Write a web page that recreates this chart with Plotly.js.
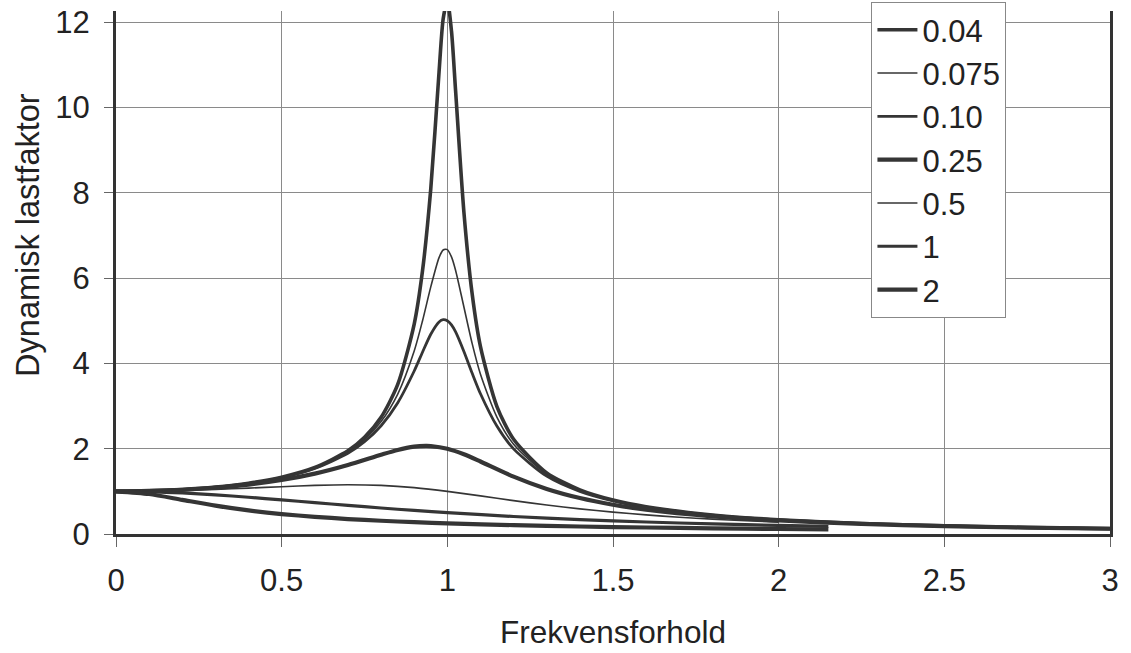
<!DOCTYPE html>
<html>
<head>
<meta charset="utf-8">
<script src="https://cdn.plot.ly/plotly-3.0.1.min.js"></script>
<style>html,body{margin:0;padding:0;background:#fff;}#chart{width:1131px;height:653px;}</style>
</head>
<body>
<div id="chart"></div>
<script>
// Frequency ratio values for the sharply peaked curves
const X_PEAK = [0,0.1,0.2,0.3,0.4,0.5,0.6,0.7,0.75,0.8,0.85,0.9,0.925,0.95,0.975,0.9875,1.0,1.0125,1.025,1.05,1.075,1.1,1.15,1.2,1.3,1.4,1.5,1.6,1.8,2.0,2.25,2.5,2.75,3.0];
const Y_004 = [1,1.010,1.042,1.099,1.190,1.331,1.558,1.949,2.265,2.735,3.500,4.922,6.164,8.089,10.83,12.08,12.5,11.79,10.38,7.546,5.624,4.392,2.982,2.221,1.433,1.035,0.796,0.639,0.446,0.333,0.246,0.190,0.152,0.125];
const Y_0075 = [1,1.010,1.041,1.098,1.188,1.327,1.547,1.921,2.214,2.635,3.275,4.290,4.994,5.792,6.478,6.658,6.667,6.496,6.178,5.322,4.462,3.744,2.734,2.104,1.395,1.018,0.787,0.634,0.443,0.332,0.245,0.190,0.152,0.125];
const Y_010 = [1,1.010,1.041,1.097,1.185,1.322,1.536,1.891,2.162,2.538,3.073,3.821,4.261,4.683,4.971,5.024,5.0,4.901,4.736,4.279,3.768,3.288,2.525,1.995,1.356,1.0,0.778,0.628,0.441,0.330,0.245,0.190,0.152,0.125];

const X_025 = [0,0.1,0.2,0.3,0.4,0.5,0.6,0.7,0.8,0.85,0.9,0.935,0.95,1.0,1.05,1.1,1.2,1.3,1.4,1.5,1.6,1.8,2.0,2.25,2.5,2.75,3.0];
const Y_025 = [1,1.009,1.036,1.084,1.158,1.265,1.415,1.617,1.858,1.970,2.047,2.066,2.062,2.0,1.870,1.699,1.344,1.055,0.842,0.686,0.570,0.414,0.316,0.237,0.185,0.149,0.123];

const X_05 = [0,0.1,0.2,0.3,0.4,0.5,0.6,0.7,0.8,0.9,1.0,1.1,1.2,1.3,1.4,1.5,1.6,1.7,1.8,1.9,2.0];
const Y_05 = [1,1.005,1.020,1.044,1.075,1.109,1.140,1.155,1.140,1.087,1.0,0.893,0.782,0.680,0.589,0.512,0.448,0.393,0.348,0.310,0.277];

const X_HIGH = [0,0.1,0.2,0.3,0.4,0.5,0.6,0.7,0.8,0.9,1.0,1.2,1.4,1.6,1.8,2.0,2.15];
const Y_1 = [1,0.990,0.962,0.917,0.862,0.8,0.735,0.671,0.610,0.552,0.5,0.410,0.338,0.281,0.236,0.2,0.178];
const Y_2 = [1,0.937,0.800,0.664,0.553,0.468,0.403,0.351,0.311,0.277,0.25,0.208,0.176,0.152,0.133,0.117,0.107];

const LABELS = ["0.04","0.075","0.10","0.25","0.5","1","2"];
const X_TICKS = [0,0.5,1,1.5,2,2.5,3];
const X_TICKTEXT = ["0","0.5","1","1.5","2","2.5","3"];
const Y_TICKS = [0,2,4,6,8,10,12];

const xs = [X_PEAK, X_PEAK, X_PEAK, X_025, X_05, X_HIGH, X_HIGH];
const ys = [Y_004, Y_0075, Y_010, Y_025, Y_05, Y_1, Y_2];
const widths = [3.6, 1.6, 2.8, 4.2, 1.6, 3.2, 4.2];
const LINE = "#353535";
const FONT = "Liberation Sans, Arial, sans-serif";
const FS = 31;

const traces = LABELS.map((name, i) => ({
  type: "scatter", mode: "lines", name: name,
  x: xs[i], y: ys[i], legendgroup: "g" + i,
  line: {color: LINE, width: widths[i], shape: "spline", smoothing: 0.7},
  hoverinfo: "x+y+name"
}));

const layout = {
  width: 1131, height: 653,
  margin: {l: 116, r: 21, t: 11, b: 119, autoexpand: false},
  paper_bgcolor: "#fff", plot_bgcolor: "#fff",
  font: {family: FONT, size: FS, color: "#222"},
  showlegend: true,
  legend: {
    x: 0.76, xanchor: "left", y: 1.017, yanchor: "top",
    bgcolor: "#fff", bordercolor: "#888", borderwidth: 1,
    font: {family: FONT, size: FS, color: "#222"},
    traceorder: "grouped", tracegroupgap: 0,
    itemwidth: 40, entrywidth: 95, entrywidthmode: "pixels"
  },
  xaxis: {
    range: [0, 3], tickvals: X_TICKS, ticktext: X_TICKTEXT,
    showgrid: true, gridcolor: "#8a8a8a", gridwidth: 1,
    zeroline: false, showline: true, linecolor: "#333", linewidth: 3,
    ticks: "outside", ticklen: 10, tickcolor: "#666", tickwidth: 1,
    ticklabelstandoff: 7,
    title: {text: "Frekvensforhold", font: {family: FONT, size: 31.5, color: "#222"}, standoff: 24}
  },
  yaxis: {
    range: [0, 12.26], tickvals: Y_TICKS,
    showgrid: true, gridcolor: "#8a8a8a", gridwidth: 1,
    zeroline: false, showline: true, mirror: true, linecolor: "#333", linewidth: 3,
    ticks: "outside", ticklen: 9, tickcolor: "#666", tickwidth: 1,
    ticklabelstandoff: 8
  },
  annotations: [{
    text: "Dynamisk lastfaktor", textangle: -90,
    xref: "paper", yref: "paper", x: -0.088, y: 0.571,
    xanchor: "center", yanchor: "middle", showarrow: false,
    font: {family: FONT, size: 32.5, color: "#222"}
  }]
};

Plotly.newPlot("chart", traces, layout, {displayModeBar: false, staticPlot: true});
</script>
</body>
</html>
